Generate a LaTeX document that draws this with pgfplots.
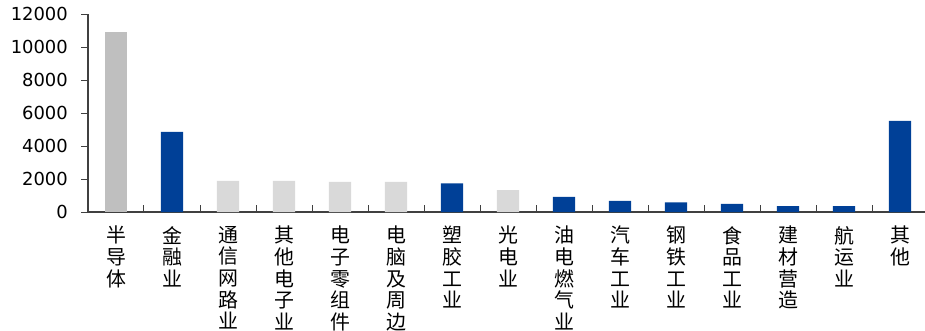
\documentclass[border=0pt]{standalone}
\usepackage{pgfplots}
\pgfplotsset{compat=1.18}
\usepackage{fontspec}
\setmainfont{DejaVu Sans}
\newfontfamily\cjk{Noto Sans CJK SC}
\definecolor{dblue}{HTML}{004097}
\definecolor{mgray}{HTML}{BFBFBF}
\definecolor{lgray}{HTML}{D9D9D9}
\definecolor{axgray}{HTML}{404040}
\begin{document}
\begin{tikzpicture}
\useasboundingbox (-88bp,-119bp) rectangle (837bp,212bp);
\clip (-88bp,-119bp) rectangle (837bp,212bp);
\begin{axis}[
  at={(0,0)}, anchor=south west,
  scale only axis,
  width=840bp, height=198bp,
  xmin=-0.5, xmax=14.5,
  ymin=0, ymax=12000,
  axis x line=bottom, axis y line=left,
  axis line style={draw=axgray, line width=1.3bp, -},
  ytick={0,2000,...,12000},
  scaled y ticks=false,
  xtick={0.5,1.5,...,13.5},
  xticklabels={},
  extra x ticks={0,...,14},
  extra x tick labels={{半\\导\\体},{金\\融\\业},{通\\信\\网\\路\\业},{其\\他\\电\\子\\业},{电\\子\\零\\组\\件},{电\\脑\\及\\周\\边},{塑\\胶\\工\\业},{光\\电\\业},{油\\电\\燃\\气\\业},{汽\\车\\工\\业},{钢\\铁\\工\\业},{食\\品\\工\\业},{建\\材\\营\\造},{航\\运\\业},{其\\他}},
  extra x tick style={major tick length=0pt},
  tick align=inside,
  major tick length=-7bp,
  tick style={draw=axgray, line width=1bp},
  xticklabel style={font=\cjk\fontsize{20}{21.7}\selectfont, align=center, anchor=north, inner sep=0pt, yshift=-14bp},
  yticklabel style={font=\fontsize{18}{20}\selectfont, anchor=east, inner sep=0pt, xshift=-20bp},
  /pgf/number format/assume math mode=true,
  /pgf/number format/set thousands separator={},
  ybar, bar width=22.4bp, bar shift=0pt,
  clip=false,
]
\addplot[fill=mgray, draw=none] coordinates {(0,10890)};
\addplot[fill=lgray, draw=none] coordinates {(2,1880) (3,1880) (4,1820) (5,1820) (7,1330)};
\addplot[fill=dblue, draw=none] coordinates {(1,4850) (6,1740) (8,910) (9,670) (10,590) (11,485) (12,360) (13,360) (14,5530)};
\end{axis}
\end{tikzpicture}
\end{document}
